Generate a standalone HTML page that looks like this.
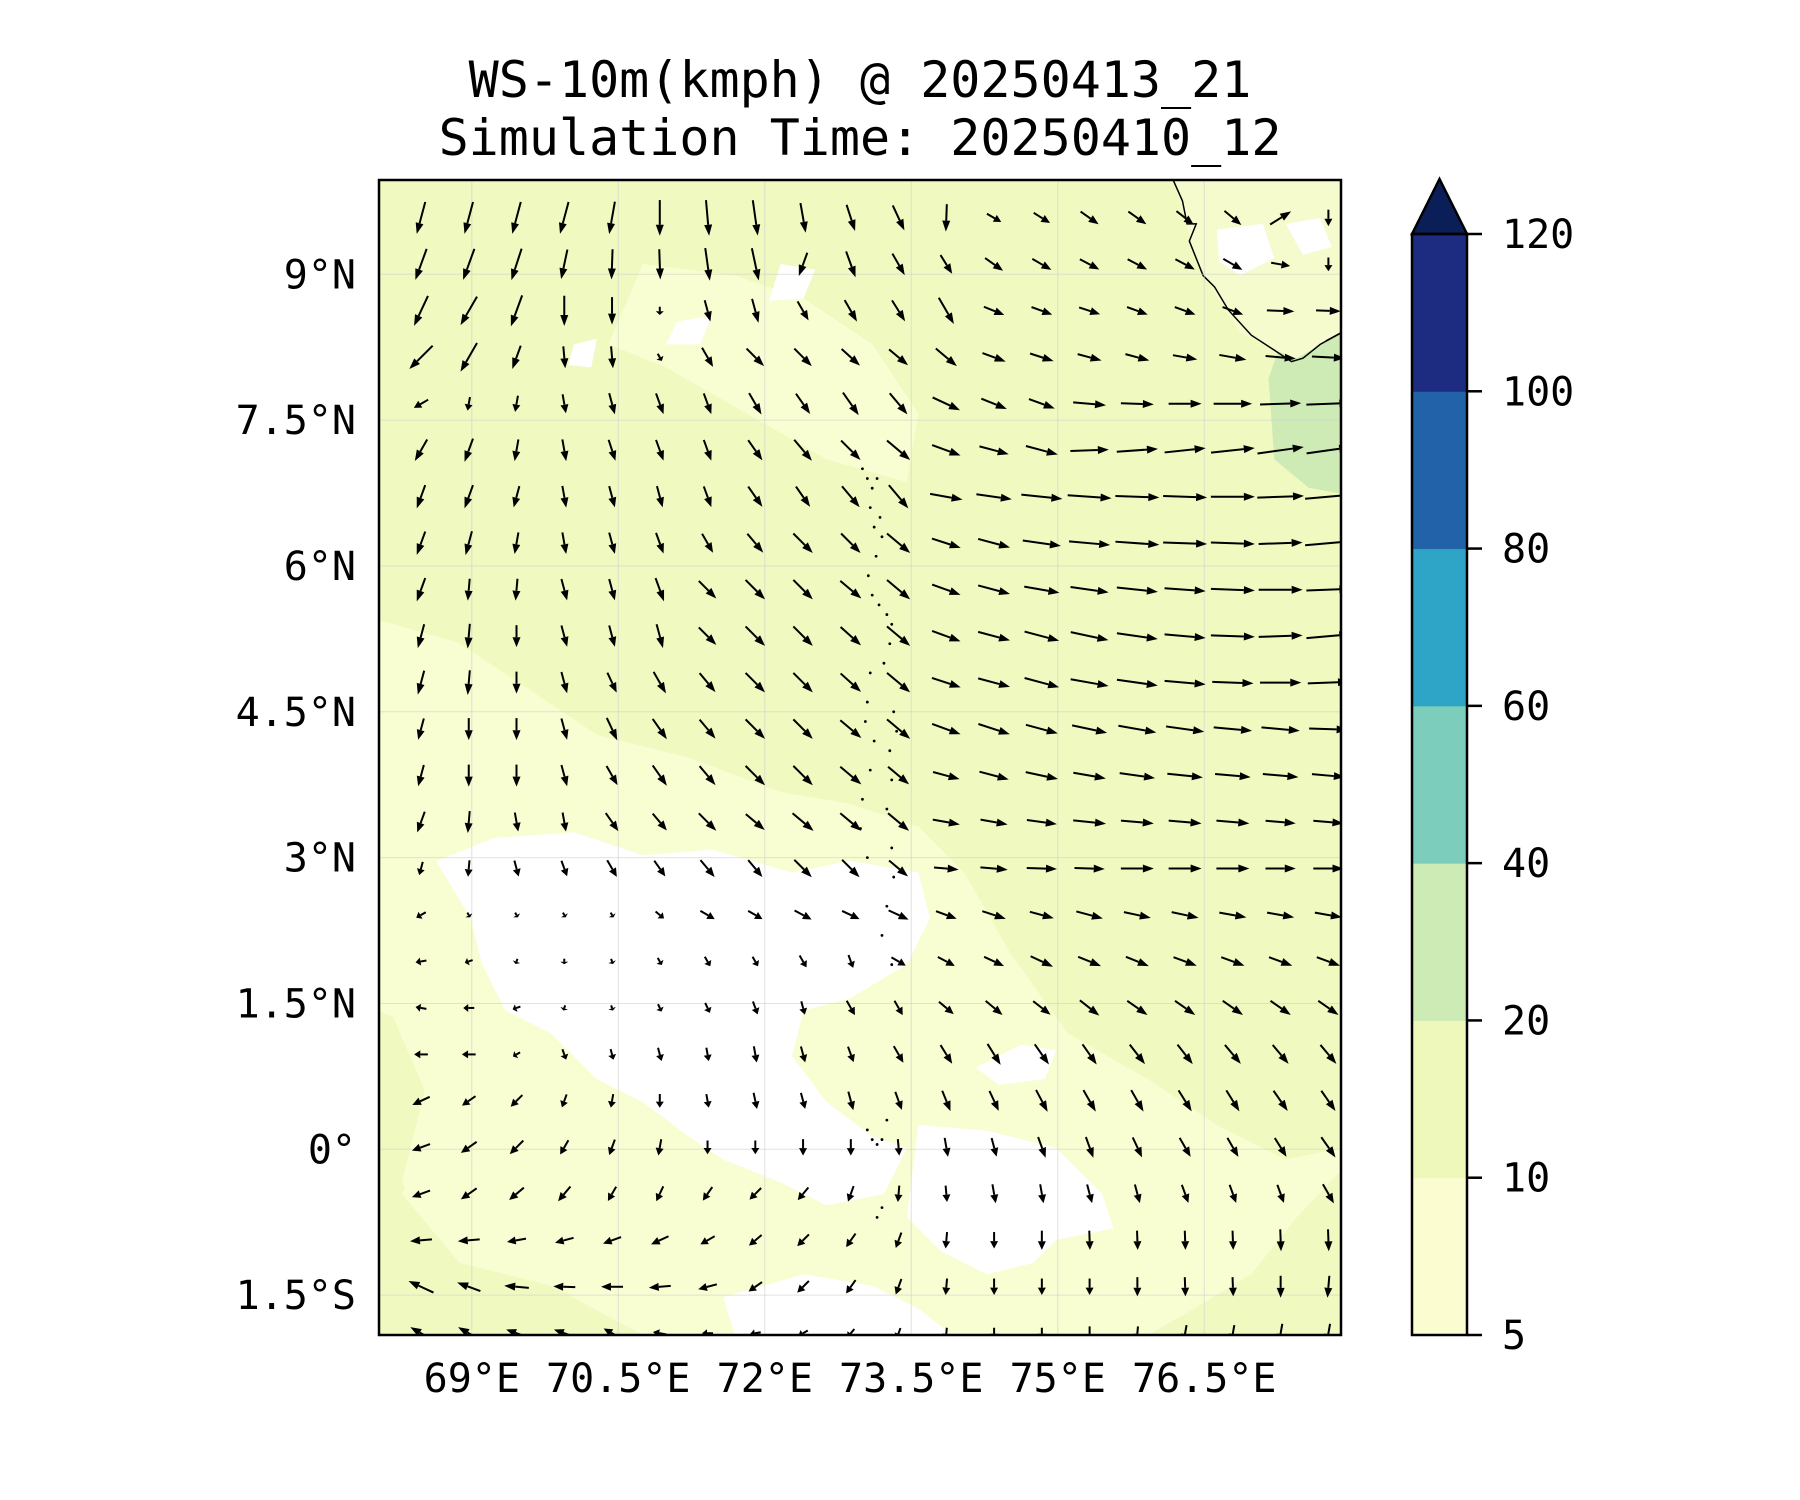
<!DOCTYPE html>
<html><head><meta charset="utf-8"><style>
body{margin:0;background:#fff}
svg{display:block}
text{font-family:"DejaVu Sans Mono","Liberation Mono",monospace;fill:#000}
</style></head><body>
<svg id="chart" width="1800" height="1500" viewBox="0 0 1800 1500" xmlns="http://www.w3.org/2000/svg">
<text x="860" y="97" font-size="50" text-anchor="middle">WS-10m(kmph) @ 20250413_21</text>
<text x="860" y="155" font-size="50" text-anchor="middle">Simulation Time: 20250410_12</text>
<defs><clipPath id="plotclip"><rect x="379" y="180" width="962" height="1155"/></clipPath></defs>
<g id="plot" clip-path="url(#plotclip)">
<rect x="379" y="180" width="962" height="1155" fill="#f9fdd2"/>
<g transform="scale(1.148)">
<path fill="#eff9c0" d="M330 157 L1168 157 L1168 1000 L1120 1010 L1060 980 L1000 940 L930 900 L880 830 L840 760 L800 720 L740 700 L680 690 L600 660 L520 640 L460 600 L400 560 L330 540 Z"/>
<path fill="#eff9c0" d="M330 880 L370 900 L380 980 L350 1040 L400 1100 L480 1120 L560 1140 L600 1163 L330 1163 Z"/>
<path fill="#eff9c0" d="M1168 1020 L1130 1060 L1090 1110 L1040 1140 L1000 1163 L1168 1163 Z"/>
<path fill="#f9fdd2" d="M560 230 L640 240 L700 260 L760 300 L800 360 L790 420 L720 400 L650 360 L580 320 L530 300 Z"/>
<path fill="#f9fdd2" d="M330 620 L420 650 L520 690 L620 700 L700 720 L780 740 L830 760 L870 820 L900 880 L960 940 L1040 990 L1100 1030 L1060 1080 L980 1120 L880 1163 L560 1163 L480 1120 L400 1090 L350 1030 L370 950 L340 880 L330 800 Z"/>
<path fill="#ffffff" d="M380 750 L430 730 L500 725 L560 745 L620 740 L690 760 L740 750 L800 760 L810 800 L790 840 L740 870 L700 880 L690 920 L720 960 L760 990 L790 1000 L770 1040 L720 1050 L680 1030 L630 1010 L600 990 L560 960 L520 940 L480 900 L440 880 L420 840 L410 800 Z"/>
<path fill="#ffffff" d="M800 980 L860 985 L920 1000 L960 1040 L970 1070 L920 1080 L900 1100 L860 1110 L820 1090 L790 1060 Z"/>
<path fill="#ffffff" d="M630 1130 L700 1110 L760 1120 L800 1140 L830 1163 L640 1163 Z"/>
<path fill="#ffffff" d="M850 930 L890 910 L920 915 L910 940 L870 945 Z"/>
<path fill="#ffffff" d="M680 230 L710 235 L700 260 L670 262 Z"/>
<path fill="#ffffff" d="M590 280 L620 275 L610 300 L580 300 Z"/>
<path fill="#ffffff" d="M500 300 L520 295 L515 320 L495 318 Z"/>
<path fill="#cfebb5" d="M1110 240 L1150 236 L1168 250 L1168 430 L1140 425 L1110 400 L1105 330 L1115 300 Z"/>
<path fill="#f6fbcd" d="M1022 157 L1168 157 L1168 290 L1130 312 L1110 305 L1080 290 L1055 250 L1040 220 L1032 190 Z"/>
<path fill="#ffffff" d="M1060 200 L1100 195 L1110 225 L1080 240 L1062 228 Z"/>
<path fill="#ffffff" d="M1120 195 L1150 190 L1160 215 L1135 222 Z"/>
<path fill="none" stroke="#000" stroke-width="1.3" d="M1022 157 L1030 175 L1034 195 L1042 195 L1036 210 L1048 240 L1058 250 L1070 270 L1090 292 L1110 305 L1125 315 L1135 312 L1150 300 L1168 290"/>
<path fill="none" stroke="#000" stroke-width="1.3" d="M1155 297 L1168 290"/>
</g>
<g id="grid"></g>
<g id="atolls"></g>
<g id="arrows"></g>
</g>
<rect x="379" y="180" width="962" height="1155" fill="none" stroke="#000" stroke-width="2.5"/>
<g id="ticks"></g>
<g id="cbar"></g>
</svg>
<script>
const NS='http://www.w3.org/2000/svg';
const lonMin=68.05, lonMax=77.90, latMin=-1.91, latMax=9.97;
const lonTicks=[69,70.5,72,73.5,75,76.5];
const lonTickLabels=['69°E','70.5°E','72°E','73.5°E','75°E','76.5°E'];
const latTicks=[9,7.5,6,4.5,3,1.5,0,-1.5];
const latTickLabels=['9°N','7.5°N','6°N','4.5°N','3°N','1.5°N','0°','1.5°S'];
const cbarLevels=[5,10,20,40,60,80,100,120];
const cbarColors=['#fbfdd0','#eef8bb','#cdebb4','#7ccdbb','#2ea4c6','#2262a9','#1d2c80'];
const cbarExtendColor='#0c1e58';
const gridLon0=68.48, gridDLon=0.489, gridLat0=9.58, gridDLat=0.478;
const dir0=[195,195,195,195,190,180,175,172,170,162,155,182,120,122,125,125,128,130,58,180];
const dir1=[200,200,198,192,182,178,172,168,200,160,150,148,125,120,118,118,118,120,100,180];
const dir2=[205,210,200,180,180,180,165,165,150,150,148,150,112,110,108,110,110,110,92,92];
const dir3=[225,210,200,175,175,150,150,135,135,132,130,130,110,108,105,105,100,100,95,93];
const dir4=[240,190,190,170,165,160,160,150,145,145,140,115,112,110,95,92,90,90,88,88];
const dir5=[210,200,190,170,162,160,160,145,140,135,130,110,105,105,88,86,84,84,82,82];
const dir6=[200,200,195,170,165,165,160,145,145,140,140,100,98,96,94,92,92,90,88,85];
const dir7=[200,195,190,170,165,160,150,140,135,135,130,108,105,98,95,94,92,92,88,85];
const dir8=[200,185,185,165,165,160,135,135,135,130,130,110,105,100,98,96,94,92,90,88];
const dir9=[195,185,180,165,165,165,135,135,135,132,130,110,105,105,102,98,95,92,88,85];
const dir10=[195,185,180,165,155,150,140,135,135,132,130,108,105,105,100,98,95,92,90,88];
const dir11=[195,180,180,165,155,145,140,135,135,130,130,110,108,105,102,100,98,95,95,92];
const dir12=[195,180,180,165,150,145,140,135,135,130,130,105,105,102,100,98,96,95,95,95];
const dir13=[200,185,170,170,145,140,135,130,130,130,130,100,100,98,96,95,95,95,95,95];
const dir14=[195,185,165,160,150,145,140,140,135,135,130,95,95,92,92,90,90,90,90,90];
const dir15=[240,150,150,150,150,130,120,120,118,115,115,110,108,105,105,102,102,100,100,100];
const dir16=[260,250,200,180,160,150,150,150,150,160,120,118,115,115,112,112,110,110,110,110];
const dir17=[280,270,250,200,160,155,155,160,165,150,150,130,130,128,128,125,125,125,125,125];
const dir18=[270,270,240,160,165,165,170,170,165,160,150,148,148,145,145,142,142,140,140,140];
const dir19=[245,235,225,200,190,180,170,168,165,165,160,158,155,152,150,150,148,148,145,145];
const dir20=[250,235,225,210,200,190,180,180,180,180,175,170,165,160,160,155,150,150,148,145];
const dir21=[250,235,230,220,210,205,215,225,220,200,185,175,170,170,165,165,160,160,160,150];
const dir22=[265,265,260,255,250,245,240,230,225,215,200,185,180,180,178,178,178,178,178,178];
const dir23=[295,290,275,272,270,265,255,235,225,215,200,185,180,180,180,180,178,178,180,185];
const dir24=[300,300,290,290,300,280,270,260,240,220,200,185,180,180,180,185,190,190,190,190];
const spd0=[12,12,12,12,12,13,13,13,11,10,10,10,6,7,8,8,8,8,9,6];
const spd1=[12,12,12,11,11,11,12,12,9,10,9,8,8,8,8,8,8,8,7,5];
const spd2=[12,12,12,11,10,3,8,9,8,9,9,11,8,8,8,8,8,8,10,9];
const spd3=[12,12,9,8,8,3,8,9,9,9,9,10,9,9,9,9,9,10,11,12];
const spd4=[6,5,6,7,8,8,8,9,9,10,10,11,10,10,12,12,12,14,15,16];
const spd5=[9,9,8,8,8,8,8,9,10,10,11,11,11,12,14,15,15,16,17,16];
const spd6=[9,9,8,8,8,8,8,9,9,10,11,12,13,15,16,16,16,16,17,17];
const spd7=[9,9,8,8,8,8,8,9,10,10,11,11,12,14,15,16,16,16,16,17];
const spd8=[9,8,8,8,8,9,9,10,10,10,11,11,12,13,14,15,15,16,16,16];
const spd9=[9,9,8,8,8,9,9,10,10,10,11,11,12,13,14,15,15,16,16,16];
const spd10=[9,9,8,8,8,9,9,10,10,10,11,11,12,13,14,15,15,15,15,15];
const spd11=[8,8,8,8,9,9,9,10,10,10,11,11,12,12,13,14,14,14,14,14];
const spd12=[8,8,8,8,8,9,9,10,10,10,10,10,11,12,12,13,13,13,13,12];
const spd13=[8,8,7,7,8,8,9,9,10,10,10,10,10,11,12,12,12,12,11,11];
const spd14=[5,6,6,6,7,7,8,8,9,9,9,9,10,11,11,12,12,12,11,11];
const spd15=[4,2,2,2,2,4,6,6,7,7,8,8,9,9,10,10,10,10,10,10];
const spd16=[4,3,2,2,2,3,4,4,5,5,6,7,8,9,9,9,9,9,9,9];
const spd17=[4,4,3,2,2,3,4,5,5,6,6,7,8,8,9,9,9,9,9,9];
const spd18=[5,5,3,4,4,5,5,6,6,6,7,8,9,9,9,9,9,9,9,9];
const spd19=[7,6,6,5,5,5,5,6,6,7,7,8,8,9,9,9,9,9,9,9];
const spd20=[7,7,7,6,6,6,5,5,6,6,6,7,7,8,8,8,8,8,8,9];
const spd21=[7,7,7,7,6,6,6,6,6,6,6,6,7,7,7,7,7,7,7,8];
const spd22=[8,8,7,7,7,7,6,6,6,6,6,6,6,7,7,7,7,7,8,8];
const spd23=[10,9,9,8,8,8,7,6,6,6,6,6,6,6,6,7,7,7,8,8];
const spd24=[9,9,8,8,7,5,4,4,4,4,4,4,4,4,5,5,6,6,7,7];
const dirRows=[dir0,dir1,dir2,dir3,dir4,dir5,dir6,dir7,dir8,dir9,dir10,dir11,dir12,dir13,dir14,dir15,dir16,dir17,dir18,dir19,dir20,dir21,dir22,dir23,dir24];
const spdRows=[spd0,spd1,spd2,spd3,spd4,spd5,spd6,spd7,spd8,spd9,spd10,spd11,spd12,spd13,spd14,spd15,spd16,spd17,spd18,spd19,spd20,spd21,spd22,spd23,spd24];
const atollLon=[73.0,73.05,73.1,73.15,73.08,73.12,73.18,73.2,73.14,73.06,73.1,73.17,73.25,73.3,73.28,73.22,73.08,73.05,73.03,73.12,73.08,73.0,72.98,73.05,73.32,73.35,73.28,73.3,73.25,73.3,73.32,73.25,73.2,73.3,73.05,73.1,73.15,73.2,73.25,73.2,73.15];
const atollLat=[7.0,6.9,6.8,6.9,6.6,6.4,6.5,6.3,6.1,5.9,5.7,5.6,5.5,5.4,5.2,5.0,4.9,4.6,4.4,4.2,3.9,3.6,3.3,3.0,4.5,4.3,4.1,3.8,3.5,3.1,2.8,2.5,2.2,1.9,0.2,0.1,0.05,0.1,0.3,-0.6,-0.7];

const X0=379,X1=1341,Y0=180,Y1=1335;
function xs(lon){return X0+(lon-lonMin)/(lonMax-lonMin)*(X1-X0);}
function ys(lat){return Y0+(latMax-lat)/(latMax-latMin)*(Y1-Y0);}
function mk(tag,attrs,parent){const e=document.createElementNS(NS,tag);for(const k in attrs)e.setAttribute(k,attrs[k]);parent.appendChild(e);return e;}

const grid=document.getElementById('grid');
lonTicks.forEach(function(v){const l=mk('line',{x1:xs(v),x2:xs(v),y1:Y0,y2:Y1,stroke:'#cfcfcf','stroke-width':1,'stroke-opacity':0.6},grid);

});
latTicks.forEach(function(v){const l=mk('line',{x1:X0,x2:X1,y1:ys(v),y2:ys(v),stroke:'#cfcfcf','stroke-width':1,'stroke-opacity':0.6},grid);

});

const at=document.getElementById('atolls');
atollLon.forEach(function(lo,i){const c=mk('circle',{cx:xs(lo),cy:ys(atollLat[i]),r:1.4,fill:'#000'},at);

});

const ar=document.getElementById('arrows');
const K=2.75;
dirRows.forEach(function(row,i){row.forEach(function(d,j){
  const lon=gridLon0+j*gridDLon, lat=gridLat0-i*gridDLat;
  const cx=xs(lon), cy=ys(lat);
  const L=spdRows[i][j]*K, a=d*Math.PI/180;
  const ux=Math.sin(a), uy=-Math.cos(a);
  const tx=cx+ux*L/2, ty=cy+uy*L/2, bx=cx-ux*L/2, by=cy-uy*L/2;
  const h=Math.min(11,L*0.45), w=4;
  const hx=tx-ux*h, hy=ty-uy*h;
  const g=mk('g',{},ar);
  
  
  mk('line',{x1:bx,y1:by,x2:hx,y2:hy,stroke:'#000','stroke-width':2},g);
  mk('polygon',{points:tx+','+ty+' '+(hx-uy*w)+','+(hy+ux*w)+' '+(hx+uy*w)+','+(hy-ux*w),fill:'#000'},g);
});});

const tk=document.getElementById('ticks');
lonTicks.forEach(function(v,i){const t=mk('text',{x:xs(v),y:1392,'font-size':40,'text-anchor':'middle'},tk);t.textContent=lonTickLabels[i];

});
latTicks.forEach(function(v,i){const t=mk('text',{x:356,y:ys(v)+14,'font-size':40,'text-anchor':'end'},tk);t.textContent=latTickLabels[i];

});

const cb=document.getElementById('cbar');
const CX0=1412,CX1=1467,CT=234,CB=1335,n=cbarLevels.length-1,step=(CB-CT)/n;
function cy(i){return CB-i*step;}
cbarColors.forEach(function(c,i){const r=mk('rect',{x:CX0,y:cy(i+1),width:CX1-CX0,height:step+0.5,fill:c},cb);

});
const tri=mk('polygon',{points:CX0+','+CT+' '+(CX0+CX1)/2+','+179+' '+CX1+','+CT,fill:cbarExtendColor,stroke:'#000','stroke-width':2.5},cb);


const fr=mk('rect',{x:CX0,y:CT,width:CX1-CX0,height:CB-CT,fill:'none',stroke:'#000','stroke-width':2.5},cb);


cbarLevels.forEach(function(v,i){const l=mk('line',{x1:CX1,x2:CX1+15,y1:cy(i),y2:cy(i),stroke:'#000','stroke-width':2.5},cb);


const t=mk('text',{x:1502,y:cy(i)+14,'font-size':40},cb);t.textContent=v;

});
</script>
</body></html>
